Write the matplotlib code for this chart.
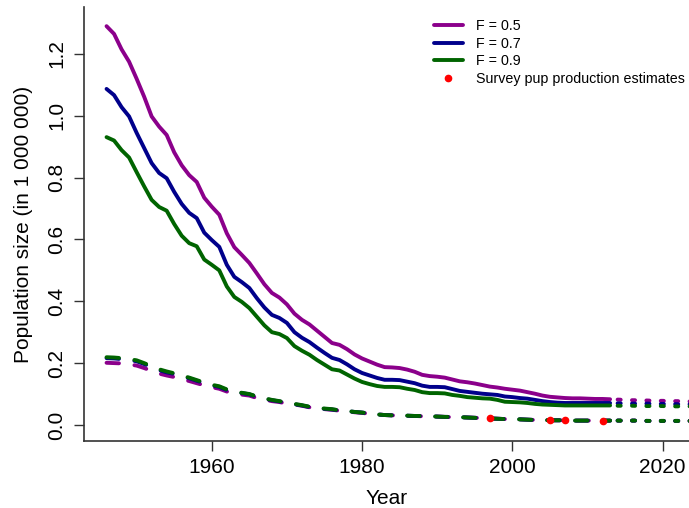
import matplotlib.pyplot as plt
import matplotlib
import numpy as np

matplotlib.rc('font', family='Liberation Sans')

years = np.arange(1946, 2014)
proj_years = np.arange(2014, 2026)

# total population (solid lines), in millions
pop_f05 = [1.290, 1.265, 1.215, 1.175, 1.120, 1.062, 0.998, 0.965, 0.938, 0.882,
           0.840, 0.808, 0.786, 0.735, 0.706, 0.680, 0.620, 0.575, 0.550, 0.524,
           0.490, 0.455, 0.427, 0.412, 0.390, 0.360, 0.340, 0.325, 0.305, 0.285,
           0.265, 0.259, 0.245, 0.228, 0.215, 0.205, 0.195, 0.187, 0.186, 0.184,
           0.179, 0.172, 0.162, 0.158, 0.156, 0.153, 0.147, 0.141, 0.138, 0.134,
           0.129, 0.124, 0.121, 0.117, 0.114, 0.111, 0.106, 0.101, 0.095, 0.091,
           0.089, 0.087, 0.086, 0.086, 0.085, 0.084, 0.084, 0.083]
pop_f07 = [1.087, 1.067, 1.028, 0.998, 0.945, 0.896, 0.847, 0.815, 0.798, 0.754,
           0.715, 0.686, 0.669, 0.622, 0.598, 0.576, 0.518, 0.479, 0.462, 0.443,
           0.410, 0.380, 0.356, 0.346, 0.330, 0.300, 0.282, 0.268, 0.250, 0.233,
           0.217, 0.210, 0.196, 0.180, 0.168, 0.160, 0.152, 0.146, 0.146, 0.145,
           0.140, 0.135, 0.127, 0.123, 0.123, 0.122, 0.116, 0.110, 0.107, 0.104,
           0.101, 0.099, 0.097, 0.092, 0.090, 0.087, 0.085, 0.081, 0.077, 0.074,
           0.072, 0.071, 0.071, 0.071, 0.071, 0.071, 0.071, 0.071]
pop_f09 = [0.931, 0.920, 0.889, 0.865, 0.818, 0.772, 0.728, 0.705, 0.693, 0.650,
           0.612, 0.588, 0.578, 0.535, 0.518, 0.500, 0.448, 0.414, 0.398, 0.378,
           0.350, 0.322, 0.300, 0.294, 0.281, 0.255, 0.240, 0.227, 0.210, 0.195,
           0.180, 0.176, 0.163, 0.150, 0.139, 0.132, 0.126, 0.123, 0.123, 0.122,
           0.117, 0.113, 0.106, 0.103, 0.103, 0.102, 0.097, 0.094, 0.090, 0.088,
           0.086, 0.085, 0.081, 0.075, 0.074, 0.073, 0.071, 0.068, 0.066, 0.065,
           0.064, 0.063, 0.063, 0.063, 0.063, 0.063, 0.063, 0.063]

# pup production (dashed lines)
pup_f05 = [0.201, 0.200, 0.199, 0.196, 0.192, 0.184, 0.175, 0.166, 0.160, 0.155,
           0.148, 0.142, 0.135, 0.128, 0.122, 0.117, 0.108, 0.101, 0.098, 0.095,
           0.087, 0.082, 0.077, 0.074, 0.069, 0.066, 0.062, 0.057, 0.053, 0.051,
           0.049, 0.046, 0.044, 0.041, 0.039, 0.036, 0.034, 0.032, 0.031, 0.030,
           0.029, 0.029, 0.028, 0.028, 0.027, 0.026, 0.025, 0.025, 0.024, 0.023,
           0.022, 0.021, 0.020, 0.019, 0.019, 0.018, 0.017, 0.016, 0.016, 0.015,
           0.015, 0.015, 0.014, 0.014, 0.014, 0.014, 0.014, 0.014]
pup_f07 = [0.216, 0.215, 0.213, 0.210, 0.206, 0.197, 0.187, 0.177, 0.170, 0.165,
           0.158, 0.151, 0.143, 0.135, 0.128, 0.123, 0.113, 0.106, 0.103, 0.099,
           0.091, 0.085, 0.080, 0.076, 0.071, 0.067, 0.063, 0.058, 0.054, 0.052,
           0.050, 0.047, 0.045, 0.042, 0.040, 0.037, 0.034, 0.032, 0.031, 0.031,
           0.030, 0.029, 0.029, 0.028, 0.027, 0.026, 0.026, 0.025, 0.024, 0.023,
           0.022, 0.021, 0.020, 0.019, 0.019, 0.018, 0.017, 0.016, 0.016, 0.015,
           0.015, 0.015, 0.014, 0.014, 0.014, 0.014, 0.014, 0.014]
pup_f09 = [0.219, 0.218, 0.216, 0.213, 0.209, 0.200, 0.190, 0.180, 0.173, 0.167,
           0.160, 0.153, 0.145, 0.137, 0.130, 0.125, 0.115, 0.107, 0.104, 0.100,
           0.092, 0.086, 0.081, 0.077, 0.072, 0.068, 0.064, 0.059, 0.055, 0.053,
           0.051, 0.047, 0.045, 0.042, 0.040, 0.037, 0.034, 0.032, 0.031, 0.031,
           0.030, 0.029, 0.029, 0.028, 0.027, 0.026, 0.026, 0.025, 0.024, 0.023,
           0.022, 0.021, 0.020, 0.019, 0.019, 0.018, 0.017, 0.016, 0.016, 0.015,
           0.015, 0.015, 0.014, 0.014, 0.014, 0.014, 0.014, 0.014]

# projections 2014-2025 (dotted)
proj_pop_f05 = [0.082, 0.081, 0.080, 0.080, 0.079, 0.078, 0.078, 0.077, 0.077, 0.076, 0.076, 0.075]
proj_pop_f07 = [0.070, 0.070, 0.069, 0.069, 0.069, 0.068, 0.068, 0.068, 0.067, 0.067, 0.067, 0.067]
proj_pop_f09 = [0.062, 0.062, 0.062, 0.061, 0.061, 0.061, 0.061, 0.060, 0.060, 0.060, 0.060, 0.060]
proj_pup = [0.014, 0.014, 0.014, 0.014, 0.013, 0.013, 0.013, 0.013, 0.013, 0.013, 0.013, 0.013]

survey_years = [1997, 2005, 2007, 2012]
survey_pups = [0.02376, 0.01537, 0.01614, 0.01366]

purple = '#8B008B'
blue = '#00008B'
green = '#006400'

fig = plt.figure(figsize=(6.89, 5.08), dpi=100)
ax = fig.add_axes([84/689, 67/508, 605/689, 434/508])

lw = 2.8
dash = (0, (3.2, 4.0))
dot = (0, (0.8, 2.9))
series = [(pop_f05, pup_f05, proj_pop_f05, purple, 'F = 0.5'),
          (pop_f07, pup_f07, proj_pop_f07, blue, 'F = 0.7'),
          (pop_f09, pup_f09, proj_pop_f09, green, 'F = 0.9')]
for pop, pup, proj, col, lab in series:
    ax.plot(years, pop, color=col, lw=lw, label=lab, solid_capstyle='round')
    ax.plot(proj_years, proj, color=col, lw=lw, linestyle=dot, dash_capstyle='round')
for pop, pup, proj, col, lab in series:
    ax.plot(years, pup, color=col, lw=lw, linestyle=dash, dash_capstyle='round')
    ax.plot(proj_years, proj_pup, color=col, lw=lw, linestyle=dot, dash_capstyle='round')

ax.plot(survey_years, survey_pups, 'o', color='red', ms=4.5, mec='red',
        label='Survey pup production estimates', zorder=5)

ax.set_xlim(1943.0, 2023.5)
ax.set_ylim(-0.052, 1.352)
ax.set_xticks([1960, 1980, 2000, 2020])
ax.set_yticks([0.0, 0.2, 0.4, 0.6, 0.8, 1.0, 1.2])
ax.set_yticklabels(['0.0', '0.2', '0.4', '0.6', '0.8', '1.0', '1.2'], rotation=90, va='center')
ax.tick_params(labelsize=15, length=7, width=1, color='#333333', pad=5)
ax.tick_params(axis='y', pad=6)
for s in ['top', 'right']:
    ax.spines[s].set_visible(False)
for s in ['left', 'bottom']:
    ax.spines[s].set_color('#333333')
    ax.spines[s].set_linewidth(1.2)

ax.set_xlabel("Year", fontsize=15, labelpad=9)
ax.set_ylabel("Population size (in 1 000 000)", fontsize=15, labelpad=10)

ax.legend(loc='upper left', bbox_to_anchor=(434/689, 1 - 19/508), bbox_transform=fig.transFigure,
          frameon=False, fontsize=10.3, handlelength=2.0, handletextpad=0.95,
          labelspacing=0.25, borderaxespad=0, borderpad=0)

fig.savefig('out.png', dpi=100)
